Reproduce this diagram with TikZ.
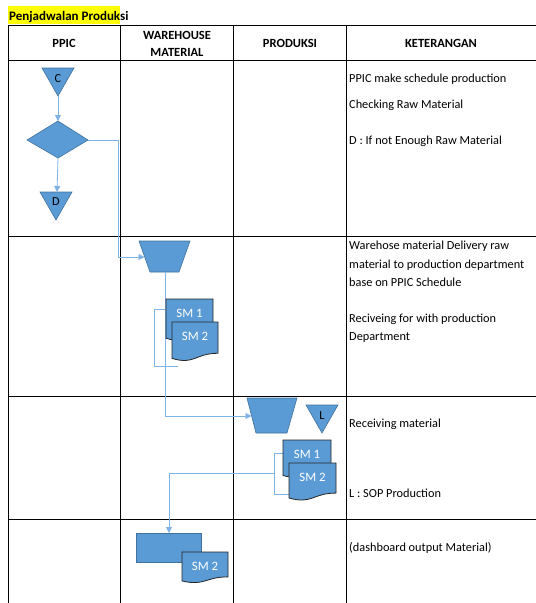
\documentclass[tikz,border=0pt]{standalone}
\usepackage{fontspec}
\setmainfont{Carlito}
\usetikzlibrary{arrows.meta}
\definecolor{fillb}{HTML}{5B9BD5}
\definecolor{edgeb}{HTML}{41719C}
\definecolor{lineb}{HTML}{7FB2E5}
\definecolor{hiyel}{HTML}{FFFF00}
\newcommand\mydoc[6]{%
  \draw[docshape] (#1,#2) -- ({#1+#3},#2) -- ({#1+#3},{#2+0.802*#4})
    .. controls ({#1+0.5*#3},{#2+0.802*#4}) and ({#1+0.5*#3},{#2+1.107*#4}) .. (#1,{#2+0.934*#4}) -- cycle;
  \node[doctext] (#5) at ({#1+#3/2},{#2+14}) {#6};}
\begin{document}
\begin{tikzpicture}[x=1pt,y=-1pt,
  font=\fontsize{12.3}{14}\selectfont,
  grid/.style={draw=black,line width=0.9pt},
  flowshape/.style={fill=fillb,draw=edgeb,line width=0.6pt},
  docshape/.style={fill=fillb,draw=black!85,line width=0.8pt},
  doctext/.style={text=white,inner sep=0pt,font=\fontsize{12.8}{14}\selectfont},
  conn/.style={draw=lineb,line width=0.8pt},
  arr/.style={conn,-{Triangle[width=6pt,length=6pt]}},
  hdr/.style={font=\fontsize{12.5}{14}\selectfont\bfseries,inner sep=0pt,anchor=base},
  note/.style={anchor=base west,inner sep=0pt},
  lbl/.style={inner sep=0pt,font=\fontsize{12.3}{13}\selectfont}]
\useasboundingbox (0,0) rectangle (536,603);
% title
\fill[hiyel] (8,6) rectangle (120,24);
\node[anchor=base west,inner sep=0pt,font=\fontsize{13}{14}\selectfont\bfseries] (title) at (9,20) {Penjadwalan Produksi};
% table
\foreach \yy in {25,60,236,396,519} \draw[grid] (8,\yy) -- (536,\yy);
\foreach \xx in {8,120,233,346} \draw[grid] (\xx,25) -- (\xx,603);
% headers
\node[hdr] (h1) at (64,47) {PPIC};
\node[hdr] (h2a) at (177,39) {WAREHOUSE};
\node[hdr] (h2b) at (177,56) {MATERIAL};
\node[hdr] (h3) at (290,47) {PRODUKSI};
\node[hdr] (h4) at (441,47) {KETERANGAN};
% notes
\node[note] (n1) at (349,82) {PPIC make schedule production};
\node[note] (n2) at (349,108) {Checking Raw Material};
\node[note] (n3) at (349,144) {D : If not Enough Raw Material};
\node[note] (n4) at (349,249) {Warehose material Delivery raw};
\node[note] (n5) at (349,268) {material to production department};
\node[note] (n6) at (349,286) {base on PPIC Schedule};
\node[note] (n7) at (349,322) {Reciveing for with production};
\node[note] (n8) at (349,340) {Department};
\node[note] (n9) at (349,427) {Receiving material};
\node[note] (n10) at (349,497) {L : SOP Production};
\node[note] (n11) at (349,551) {(dashboard output Material)};
% PPIC column shapes
\draw[flowshape] (42,68) -- (74,68) -- (58,96) -- cycle;
\node[lbl] (C) at (58,79) {C};
\coordinate (Cbot) at (58,96);
\draw[flowshape] (58,121) -- (88,140) -- (58,158) -- (27,140) -- cycle;
\coordinate (DiaT) at (58,121);
\coordinate (DiaB) at (58,158);
\coordinate (DiaR) at (88,140);
\draw[flowshape] (40,192) -- (72,192) -- (56,220) -- cycle;
\node[lbl] (D) at (56,202) {D};
\coordinate (Dtop) at (57,192);
\draw[arr] (Cbot) -- (DiaT);
\draw[arr] (DiaB) -- (Dtop);
% warehouse
\draw[flowshape] (139,241) -- (190,241) -- (179,272) -- (150,272) -- cycle;
\coordinate (T1L) at (144.5,257);
\coordinate (T1B) at (165,272);
\coordinate (bendA) at (118,140);
\coordinate (bendB) at (118,257);
\draw[arr] (DiaR) -- (bendA) -- (bendB) -- (T1L);
% produksi trapezoid and link
\draw[flowshape] (247,398) -- (297,398) -- (287,433) -- (256,433) -- cycle;
\coordinate (T2L) at (251.5,416);
\coordinate (bendC) at (165,416);
\draw[arr] (T1B) -- (bendC) -- (T2L);
% L triangle
\draw[flowshape] (306,405) -- (338,405) -- (322,433) -- cycle;
\node[lbl] (L) at (322,416) {L};
% warehouse docs + bracket
\coordinate (wb1) at (166,309);
\coordinate (wb2) at (154,309);
\coordinate (wb3) at (154,366);
\coordinate (wb4) at (178,366);
\draw[conn] (wb1) -- (wb2) -- (wb3) -- (wb4);
\mydoc{166}{299}{47}{42}{wsm1}{SM 1}
\mydoc{172}{322}{46}{39}{wsm2}{SM 2}
% produksi docs + bracket
\coordinate (pb1) at (283,453);
\coordinate (pb2) at (274,453);
\coordinate (pb3) at (274,494);
\coordinate (pb4) at (289,494);
\coordinate (pm) at (274,473);
\coordinate (pl) at (169,473);
\coordinate (rtop) at (169,533);
\draw[conn] (pb1) -- (pb2) -- (pb3) -- (pb4);
\draw[arr] (pm) -- (pl) -- (rtop);
\mydoc{283}{440}{48}{38}{psm1}{SM 1}
\mydoc{289}{463}{47}{37.5}{psm2}{SM 2}
% dashboard
\draw[flowshape] (136,533) rectangle (201,562);
\mydoc{182}{552}{46}{31}{dsm2}{SM 2}
\end{tikzpicture}
\end{document}
